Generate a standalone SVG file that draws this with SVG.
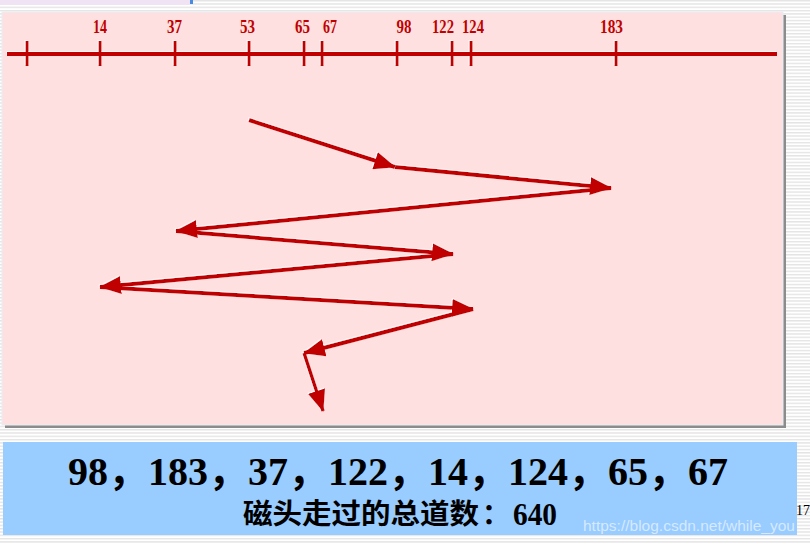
<svg xmlns="http://www.w3.org/2000/svg" width="810" height="544" viewBox="0 0 810 544">
  <defs>
    <pattern id="stripes" width="4" height="3.3" patternUnits="userSpaceOnUse">
      <rect width="4" height="3.3" fill="#ffffff"/>
      <rect y="0" width="4" height="1.4" fill="#e4e4e4"/>
    </pattern>
    <marker id="head" markerUnits="userSpaceOnUse" viewBox="0 0 22 18" markerWidth="22" markerHeight="18" refX="21" refY="9" orient="auto">
      <path d="M0,0 L22,9 L0,18 z" fill="#c00000"/>
    </marker>
    <filter id="hl" x="-5%" y="-5%" width="110%" height="110%">
      <feDropShadow dx="-0.8" dy="-0.8" stdDeviation="0" flood-color="#ffffff" flood-opacity="0.9"/>
    </filter>
    <style>
      .axis { stroke: #c00000; stroke-width: 4; fill: none; }
      .tick { stroke: #c00000; stroke-width: 3; }
      .lbl { font-family: "Liberation Serif", "DejaVu Serif", serif; font-size: 18px; font-weight: bold; fill: #c00000; text-anchor: middle; }
      .conn { stroke: #c00000; stroke-width: 4; fill: none; marker-end: url(#head); }
      .seq { font-family: "Liberation Serif", "Noto Sans CJK SC", serif; font-size: 40px; font-weight: bold; fill: #000000; }
      .cn { font-family: "Noto Sans CJK SC", "Liberation Sans", sans-serif; font-size: 28px; font-weight: bold; fill: #000000; }
      .num { font-family: "Liberation Serif", serif; font-size: 32px; font-weight: bold; fill: #000000; }
    </style>
  </defs>

  <!-- background -->
  <rect x="0" y="0" width="810" height="544" fill="url(#stripes)"/>
  <rect x="0" y="0" width="190" height="5" fill="#f0e4f4"/>
  <rect x="190" y="0" width="3" height="4" fill="#4a8ae0"/>

  <!-- pink panel -->
  <g id="panel">
    <rect x="5" y="15" width="781" height="413" fill="#8c8c8c"/>
    <rect x="2" y="12" width="781" height="413" fill="#ffe0e0" stroke="#e6eef4" stroke-width="1"/>
  </g>

  <!-- axis -->
  <g id="axis" filter="url(#hl)">
    <line class="axis" x1="7" y1="54" x2="777" y2="54"/>
    <line class="tick" x1="27" y1="41" x2="27" y2="66"/>
    <line class="tick" x1="100" y1="41" x2="100" y2="66"/>
    <line class="tick" x1="175" y1="41" x2="175" y2="66"/>
    <line class="tick" x1="249" y1="41" x2="249" y2="66"/>
    <line class="tick" x1="304" y1="41" x2="304" y2="66"/>
    <line class="tick" x1="322" y1="41" x2="322" y2="66"/>
    <line class="tick" x1="397" y1="41" x2="397" y2="66"/>
    <line class="tick" x1="452" y1="41" x2="452" y2="66"/>
    <line class="tick" x1="471" y1="41" x2="471" y2="66"/>
    <line class="tick" x1="616" y1="41" x2="616" y2="66"/>
  </g>
  <g id="labels">
    <text class="lbl" x="100" y="33" textLength="14" lengthAdjust="spacingAndGlyphs">14</text>
    <text class="lbl" x="174.5" y="33" textLength="15" lengthAdjust="spacingAndGlyphs">37</text>
    <text class="lbl" x="247.5" y="33" textLength="15" lengthAdjust="spacingAndGlyphs">53</text>
    <text class="lbl" x="302.5" y="33" textLength="15" lengthAdjust="spacingAndGlyphs">65</text>
    <text class="lbl" x="330" y="33" textLength="14" lengthAdjust="spacingAndGlyphs">67</text>
    <text class="lbl" x="404" y="33" textLength="15" lengthAdjust="spacingAndGlyphs">98</text>
    <text class="lbl" x="443" y="33" textLength="22" lengthAdjust="spacingAndGlyphs">122</text>
    <text class="lbl" x="473" y="33" textLength="22" lengthAdjust="spacingAndGlyphs">124</text>
    <text class="lbl" x="611.5" y="33" textLength="23" lengthAdjust="spacingAndGlyphs">183</text>
  </g>

  <!-- connectors: head movement path -->
  <g id="connectors" filter="url(#hl)">
    <line class="conn" x1="249" y1="120" x2="395" y2="167"/>
    <line class="conn" x1="395" y1="167" x2="611" y2="188"/>
    <line class="conn" x1="611" y1="188" x2="176" y2="231"/>
    <line class="conn" x1="176" y1="231" x2="453" y2="254"/>
    <line class="conn" x1="453" y1="254" x2="100" y2="287"/>
    <line class="conn" x1="100" y1="287" x2="473" y2="309"/>
    <line class="conn" x1="473" y1="309" x2="304" y2="353"/>
    <line class="conn" x1="304" y1="353" x2="323" y2="411" style="stroke-width:3.5"/>
  </g>

  <!-- bottom summary box -->
  <g id="summary">
    <rect x="3" y="442" width="794" height="93" fill="#99ccff"/>
    <text class="seq" x="398" y="485" text-anchor="middle">98，183，37，122，14，124，65，67</text>
    <text class="cn" x="243" y="524" textLength="236" lengthAdjust="spacingAndGlyphs">磁头走过的总道数</text>
    <text class="cn" x="482" y="524">：</text>
    <text class="num" x="513" y="525" textLength="44" lengthAdjust="spacingAndGlyphs">640</text>
    <text x="583" y="531" font-family="Liberation Sans, Arial, sans-serif" font-size="15.5" fill="#ffffff" fill-opacity="0.6">https://blog.csdn.net/while_you</text>
    <text x="796" y="515" font-family="Liberation Serif, serif" font-size="14" fill="#000000">17</text>
  </g>
</svg>
